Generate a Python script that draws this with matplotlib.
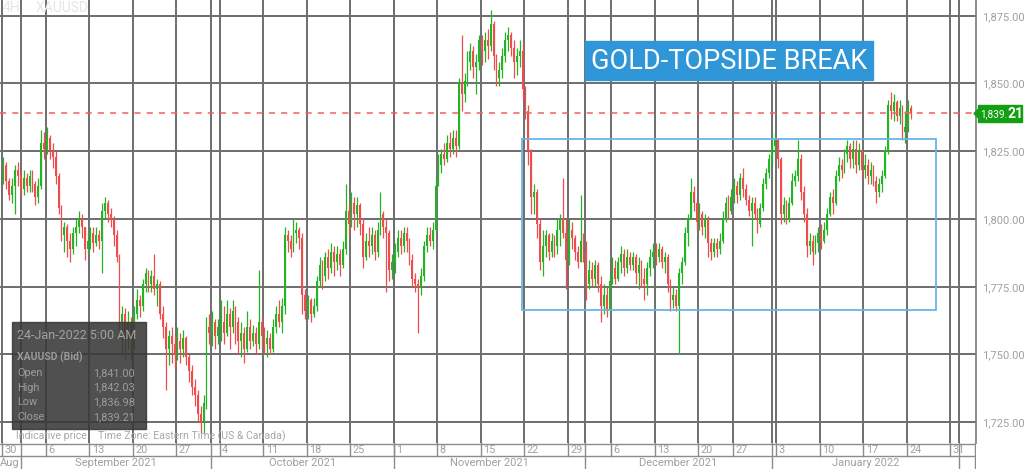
import matplotlib
matplotlib.use("Agg")
import matplotlib.pyplot as plt
from matplotlib.patches import Rectangle, Polygon
import numpy as np

plt.rcParams['font.family'] = ['Roboto', 'DejaVu Sans']

# ---------------- data (8-hour bars) ----------------
first_open = 1818.0
closes = [
    1820, 1814, 1809, 1812, 1818, 1816, 1811, 1815, 1812, 1816, 1813, 1808, 1812, 1828, 1826,
    1830, 1825, 1823, 1816, 1804, 1794, 1797, 1792, 1789, 1795, 1797, 1800, 1797, 1789, 1792,
    1795, 1791, 1794, 1792, 1803, 1806, 1802, 1800, 1794, 1786, 1762, 1765, 1758, 1762, 1756,
    1765, 1770, 1768, 1776, 1780, 1776, 1779, 1774, 1776, 1765, 1760, 1752, 1757, 1754, 1750,
    1755, 1752, 1756, 1749, 1744, 1738, 1735, 1728, 1725, 1732, 1760, 1758, 1762, 1757, 1760,
    1762, 1758, 1765, 1760, 1766, 1762, 1755, 1758, 1752, 1760, 1755, 1758, 1754, 1762, 1757,
    1754, 1756, 1752, 1760, 1765, 1762, 1768, 1794, 1792, 1789, 1795, 1796, 1793, 1772, 1766,
    1770, 1765, 1768, 1777, 1783, 1779, 1786, 1782, 1788, 1784, 1787, 1783, 1789, 1803, 1798,
    1806, 1802, 1805, 1798, 1786, 1792, 1790, 1794, 1788, 1796, 1802, 1797, 1795, 1781, 1784,
    1788, 1793, 1790, 1795, 1792, 1785, 1778, 1776, 1775, 1779, 1790, 1794, 1792, 1796, 1812,
    1820, 1824, 1822, 1828, 1826, 1830, 1827, 1850, 1846, 1851, 1858, 1862, 1856, 1858, 1866,
    1862, 1866, 1864, 1872, 1860, 1852, 1855, 1860, 1866, 1868, 1863, 1858, 1860, 1862, 1848,
    1840, 1825, 1808, 1810, 1798, 1784, 1790, 1794, 1788, 1792, 1790, 1796, 1800, 1795, 1785,
    1796, 1793, 1788, 1784, 1792, 1788, 1776, 1781, 1778, 1783, 1776, 1768, 1772, 1766, 1777,
    1782, 1778, 1784, 1787, 1782, 1786, 1783, 1786, 1780, 1783, 1778, 1776, 1782, 1786, 1788,
    1786, 1789, 1784, 1786, 1776, 1770, 1772, 1768, 1780, 1784, 1795, 1800, 1810, 1806, 1799,
    1802, 1797, 1800, 1791, 1788, 1791, 1789, 1792, 1800, 1806, 1803, 1808,
    1812, 1809, 1815, 1811, 1807, 1803, 1806, 1802, 1798, 1804, 1813, 1817, 1822, 1827, 1829,
    1822, 1802, 1805, 1800, 1806, 1814, 1816, 1822, 1810, 1802, 1790, 1792, 1788, 1791, 1795,
    1792, 1796, 1802, 1808, 1806, 1816, 1820, 1818, 1824, 1827, 1822, 1826, 1820, 1825, 1818,
    1820, 1816, 1818, 1814, 1810, 1813, 1816, 1825, 1842, 1840, 1843, 1838, 1841, 1832, 1834,
    1841, 1839.21,
]
highs = [
    1823, 1821, 1815, 1815, 1820, 1821, 1818, 1818, 1817, 1818, 1818, 1814, 1815, 1833, 1832,
    1834, 1831, 1828, 1825, 1817, 1805, 1799, 1798, 1795, 1797, 1800, 1803, 1802, 1797, 1796,
    1797, 1797, 1797, 1796, 1806, 1808, 1807, 1804, 1801, 1796, 1787, 1768, 1767, 1766, 1764,
    1768, 1774, 1772, 1778, 1782, 1781, 1781, 1787, 1778, 1777, 1768, 1762, 1759, 1760, 1757,
    1760, 1758, 1759, 1757, 1750, 1746, 1741, 1737, 1731, 1735, 1764, 1765, 1766, 1763, 1763,
    1770, 1768, 1770, 1767, 1770, 1768, 1764, 1762, 1760, 1766, 1763, 1761, 1760, 1781, 1764,
    1760, 1759, 1758, 1763, 1768, 1770, 1771, 1797, 1796, 1794, 1800, 1799, 1797, 1795, 1774,
    1772, 1771, 1771, 1779, 1786, 1785, 1788, 1789, 1791, 1790, 1790, 1789, 1792, 1813, 1806,
    1810, 1808, 1808, 1806, 1800, 1795, 1797, 1797, 1796, 1799, 1810, 1803, 1800, 1796, 1787,
    1791, 1796, 1796, 1797, 1797, 1793, 1787, 1780, 1778, 1782, 1792, 1797, 1797, 1799, 1815,
    1824, 1826, 1828, 1831, 1832, 1833, 1833, 1852, 1868, 1854, 1862, 1865, 1864, 1861, 1868,
    1868, 1869, 1870, 1877, 1873, 1861, 1858, 1863, 1869, 1871, 1869, 1866, 1863, 1866, 1865,
    1849, 1842, 1826, 1813, 1811, 1800, 1796, 1796, 1795, 1795, 1794, 1800, 1802, 1815, 1800,
    1800, 1799, 1794, 1790, 1809, 1795, 1792, 1785, 1784, 1785, 1784, 1779, 1776, 1775, 1780,
    1786, 1785, 1786, 1790, 1789, 1789, 1788, 1788, 1787, 1786, 1785, 1782, 1784, 1789, 1791,
    1791, 1791, 1790, 1788, 1787, 1778, 1775, 1774, 1782, 1786, 1797, 1802, 1815, 1812, 1806,
    1806, 1803, 1802, 1801, 1793, 1793, 1793, 1795, 1803, 1808, 1809, 1811,
    1815, 1814, 1817, 1819, 1813, 1809, 1808, 1808, 1804, 1806, 1815, 1819, 1824, 1830, 1832,
    1830, 1823, 1808, 1807, 1808, 1817, 1818, 1829, 1824, 1812, 1804, 1795, 1794, 1794, 1797,
    1798, 1799, 1804, 1810, 1811, 1818, 1823, 1822, 1826, 1829, 1828, 1829, 1829, 1828, 1826,
    1824, 1822, 1821, 1820, 1816, 1815, 1818, 1827, 1844, 1847, 1846, 1844, 1844, 1842, 1840,
    1844, 1842.03,
]
lows = [
    1813, 1811, 1807, 1806, 1802, 1812, 1808, 1809, 1810, 1810, 1810, 1805, 1806, 1811, 1822,
    1824, 1822, 1819, 1813, 1802, 1792, 1788, 1786, 1784, 1787, 1790, 1795, 1793, 1785, 1787,
    1789, 1788, 1790, 1789, 1780, 1800, 1799, 1797, 1790, 1784, 1759, 1750, 1748, 1752, 1748,
    1752, 1763, 1764, 1766, 1773, 1773, 1773, 1772, 1768, 1763, 1756, 1737, 1746, 1747, 1745,
    1748, 1747, 1749, 1746, 1740, 1735, 1731, 1725, 1721, 1721, 1730, 1754, 1753, 1752, 1754,
    1755, 1754, 1757, 1752, 1758, 1754, 1750, 1749, 1747, 1751, 1752, 1753, 1750, 1752, 1752,
    1750, 1749, 1750, 1751, 1758, 1760, 1758, 1765, 1788, 1786, 1788, 1791, 1789, 1765, 1763,
    1763, 1762, 1764, 1766, 1775, 1774, 1777, 1778, 1780, 1779, 1781, 1779, 1782, 1787, 1794,
    1797, 1796, 1797, 1794, 1782, 1785, 1786, 1787, 1785, 1786, 1794, 1793, 1773, 1777, 1778,
    1780, 1786, 1787, 1788, 1788, 1783, 1775, 1773, 1758, 1772, 1777, 1788, 1790, 1789, 1795,
    1812, 1817, 1820, 1821, 1823, 1824, 1823, 1826, 1840, 1843, 1849, 1855, 1852, 1846, 1855,
    1857, 1858, 1859, 1862, 1855, 1849, 1849, 1852, 1858, 1862, 1860, 1852, 1853, 1856, 1844,
    1837, 1820, 1802, 1802, 1793, 1781, 1779, 1786, 1785, 1786, 1786, 1787, 1790, 1793, 1774,
    1783, 1789, 1785, 1782, 1784, 1784, 1770, 1774, 1775, 1775, 1773, 1762, 1765, 1764, 1765,
    1776, 1776, 1777, 1780, 1779, 1780, 1781, 1781, 1776, 1774, 1775, 1770, 1772, 1779, 1782,
    1783, 1784, 1782, 1780, 1773, 1766, 1767, 1766, 1750, 1776, 1783, 1790, 1800, 1803, 1796,
    1796, 1794, 1793, 1786, 1785, 1786, 1786, 1787, 1791, 1799, 1800, 1802,
    1806, 1806, 1807, 1808, 1805, 1801, 1790, 1800, 1795, 1797, 1803, 1811, 1815, 1820, 1824,
    1819, 1798, 1799, 1798, 1799, 1805, 1812, 1814, 1807, 1799, 1786, 1787, 1783, 1787, 1788,
    1789, 1791, 1794, 1801, 1802, 1805, 1814, 1815, 1817, 1821, 1819, 1819, 1817, 1818, 1815,
    1815, 1813, 1813, 1812, 1806, 1808, 1810, 1815, 1824, 1837, 1836, 1836, 1835, 1829, 1828,
    1832, 1836.98,
]

week_labels = ['30', '6', '13', '20', '27', '4', '11', '18', '25', '1', '8', '15', '22',
               '29', '6', '13', '20', '27', '3', '10', '17', '24', '31']
week_bars = [15] * 16 + [12] + [15] * 6
month_names = ['Aug', 'September 2021', 'October 2021', 'November 2021',
               'December 2021', 'January 2022']
month_bounds = [6.0, 71.5, 134.5, 200.5, 265.0, 329.5]
price_ticks = [1725, 1750, 1775, 1800, 1825, 1850, 1875]
last_price = 1839.21
info_rows = [('Open', '1,841.00'), ('High', '1,842.03'), ('Low', '1,836.98'), ('Close', '1,839.21')]
range_box = (178.8, 321.6, 1766.4, 1829.5)   # x0, x1, low, high
title = 'GOLD-TOPSIDE BREAK'

# ---------------- style ----------------
W, H = 1024, 469
GREEN = '#22b422'
RED = '#ef4c4c'
GRID = '#6e6e6e'
TXT = '#a0a0a0'
XL, XR = -1.19, 335.36
YB, YT = 1717.34, 1880.81
PLOT_R = 976
AXIS_H = 26


def fx(px):
    return px / W


def fy(py):
    return 1 - py / H


fig = plt.figure(figsize=(W / 100, H / 100), dpi=100)
fig.patch.set_facecolor('white')
ax = fig.add_axes([0, AXIS_H / H, PLOT_R / W, 1 - AXIS_H / H])
ax.set_xlim(XL, XR)
ax.set_ylim(YB, YT)
ax.set_facecolor('white')
for s in ['top', 'left', 'bottom']:
    ax.spines[s].set_visible(False)
ax.spines['right'].set_color('#7a7a7a')
ax.spines['right'].set_linewidth(1.2)

# week boundaries
starts = np.concatenate([[0], np.cumsum(week_bars)[:-1]]) - 0.5

# grid
for p in price_ticks:
    ax.axhline(p, color=GRID, lw=1.4, zorder=1)
for b in list(starts) + month_bounds:
    ax.axvline(b, color=GRID, lw=1.4, zorder=1)

# candles
c = np.array(closes, dtype=float)
o = np.concatenate([[first_open], c[:-1]])
h = np.array(highs, dtype=float)
l = np.array(lows, dtype=float)
idx = np.arange(len(c))
cols = np.where(c >= o, GREEN, RED)
ax.vlines(idx, l, h, colors=cols, lw=0.9, zorder=3)
ax.bar(idx, np.maximum(np.abs(c - o), 0.5), bottom=np.minimum(c, o), width=0.62,
       color=cols, lw=0, zorder=3)

# last price dashed line
ax.axhline(last_price, color='#f26060', lw=1.1, ls=(0, (4, 4)), zorder=4)

# range box
bx0, bx1, blo, bhi = range_box
ax.add_patch(Rectangle((bx0, blo), bx1 - bx0, bhi - blo, fill=False,
                       edgecolor='#6ab4e6', lw=1.3, zorder=5))

# y tick labels on the right
ax.yaxis.tick_right()
ax.set_yticks(price_ticks)
ax.set_yticklabels([f'{p:,.2f}' for p in price_ticks])
ax.tick_params(axis='y', length=0, pad=4, labelsize=8, labelcolor=TXT)
ax.set_xticks([])

# faint symbol text top-left
fig.text(fx(3), fy(8), '4H', color='#e6e6e6', fontsize=10, va='center', ha='left')
fig.text(fx(36), fy(8), 'XAUUSD', color='#e6e6e6', fontsize=10, va='center', ha='left')

# title box
fig.add_artist(Rectangle((fx(585), fy(80)), fx(873) - fx(585), fy(41) - fy(80),
                         transform=fig.transFigure, color='#2f96d8', zorder=6))
fig.text(fx(729), fy(61), title, color='white', fontsize=19.5, ha='center', va='center',
         zorder=7)

# last price label
fig.add_artist(Rectangle((fx(978), fy(122)), fx(1022) - fx(978), fy(105) - fy(122),
                         transform=fig.transFigure, color='#12a012', zorder=6))
fig.add_artist(Polygon([[fx(974), fy(113.5)], [fx(978.5), fy(109)], [fx(978.5), fy(118)]],
                       closed=True, transform=fig.transFigure, color='#12a012', zorder=6))
pstr = f'{last_price:,.2f}'
fig.text(fx(1007.5), fy(114), pstr[:-2], color='white', fontsize=7.2, ha='right', va='center',
         zorder=7)
fig.text(fx(1007.5), fy(113.5), pstr[-2:], color='white', fontsize=10, fontweight='bold',
         ha='left', va='center', zorder=7)

# info box
fig.add_artist(Rectangle((fx(12), fy(429)), fx(146) - fx(12), fy(322) - fy(429),
                         transform=fig.transFigure, color='#383838', alpha=0.88, zorder=6))
fig.text(fx(17), fy(335), '24-Jan-2022 5:00 AM', color='#a2a2a2', fontsize=9, ha='left',
         va='center', zorder=7)
fig.text(fx(17), fy(357), 'XAUUSD (Bid)', color='#9c9c9c', fontsize=7.5, fontweight='bold',
         ha='left', va='center', zorder=7)
for k, (lab, val) in enumerate(info_rows):
    yy = 373 + k * 14.6
    fig.text(fx(17), fy(yy), lab, color='#9c9c9c', fontsize=7.8, ha='left', va='center', zorder=7)
    fig.text(fx(135), fy(yy), val, color='#9c9c9c', fontsize=7.8, ha='right', va='center',
             zorder=7)

# footer text
fig.text(fx(16), fy(436), 'Indicative price', color='#a8a8a8', fontsize=7.6, ha='left',
         va='center', zorder=7)
fig.text(fx(98), fy(436), 'Time Zone: Eastern Time (US & Canada)', color='#a8a8a8',
         fontsize=7.6, ha='left', va='center', zorder=7)

# date axis
axd = fig.add_axes([0, 0, PLOT_R / W, AXIS_H / H])
axd.set_xlim(XL, XR)
axd.set_ylim(0, AXIS_H)
axd.axis('off')
LC = '#8c8c8c'
axd.axhline(AXIS_H - 0.5, color=LC, lw=1.0)
axd.axhline(13, color=LC, lw=1.0)
axd.axvline(XR - 0.2, color=LC, lw=1.0)
for b in starts:
    axd.plot([b, b], [13, AXIS_H], color=LC, lw=1.0)
for b in month_bounds:
    axd.plot([b, b], [0, AXIS_H], color=LC, lw=1.0)
for b, lab in zip(starts, week_labels):
    axd.text(b + 0.9, 19.5, lab, color=TXT, fontsize=7.8, ha='left', va='center')
edges = [XL] + month_bounds
for k, name in enumerate(month_names):
    if k == 0:
        axd.text(XL + 0.1, 6.5, name, color=TXT, fontsize=8, ha='left', va='center')
    else:
        axd.text((edges[k] + edges[k + 1]) / 2, 6.5, name, color=TXT, fontsize=8,
                 ha='center', va='center')

fig.savefig('out.png', dpi=100, facecolor='white')
